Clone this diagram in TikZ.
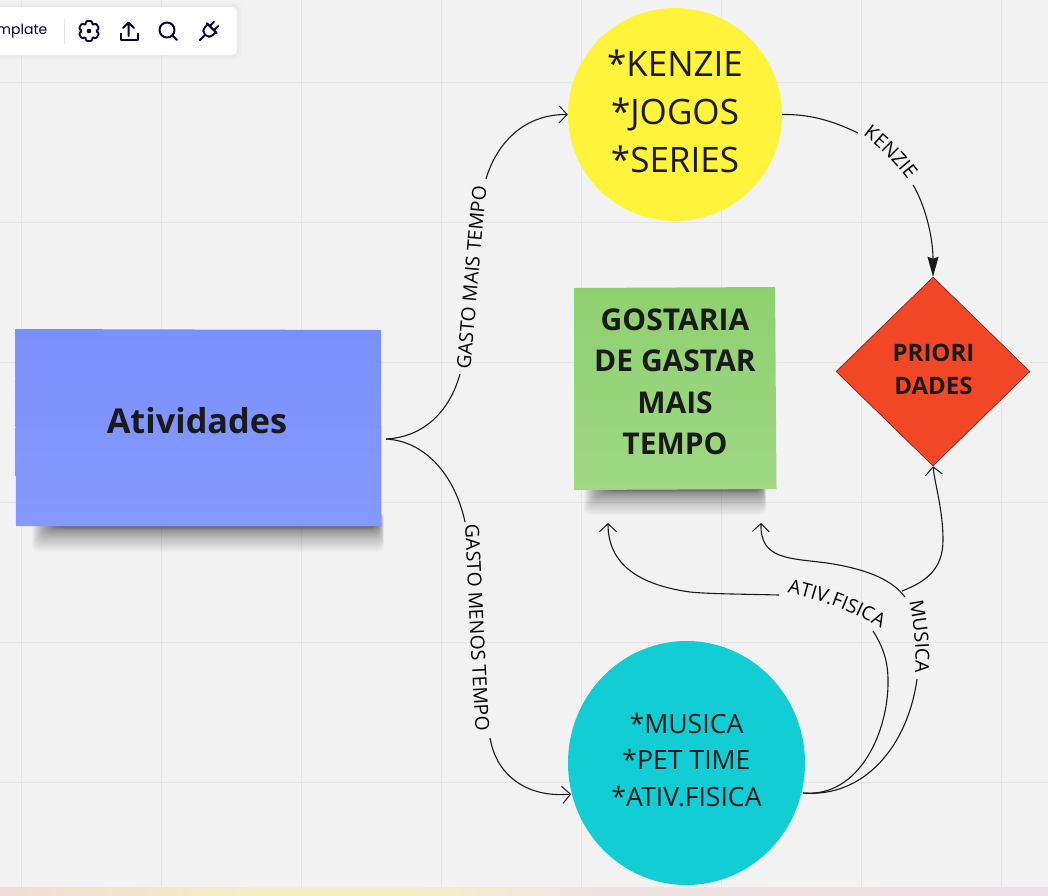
\documentclass[tikz,border=0pt]{standalone}
\usepackage{fontspec}
\setmainfont{Open Sans}
\newfontfamily\uifont{Poppins}
\usetikzlibrary{shapes.geometric,decorations.text,arrows.meta,calc}
\definecolor{bgc}{HTML}{F2F2F2}
\definecolor{gridc}{HTML}{E5E5E5}
\definecolor{ink}{HTML}{1A1A1A}
\definecolor{navy}{HTML}{050038}
\definecolor{stripA}{HTML}{F0DCD6}
\definecolor{stripB}{HTML}{F5EFC5}
\definecolor{stripC}{HTML}{F2E3E3}
\definecolor{stripD}{HTML}{EFDFE6}
\definecolor{blueA}{RGB}{122,144,251}
\definecolor{blueB}{RGB}{133,153,255}
\definecolor{greenA}{RGB}{142,208,112}
\definecolor{greenB}{RGB}{160,216,132}
\definecolor{yellowc}{RGB}{255,243,60}
\definecolor{tealc}{RGB}{18,205,212}
\definecolor{redc}{RGB}{242,71,38}
\newcommand{\lblfont}{\fontsize{19.3}{19.3}\selectfont}
\newcommand{\fs}[2]{\fontsize{#1}{#2}\selectfont}
\tikzset{
  x=1pt,y=-1pt,
  conn/.style={draw=ink,line width=1.1pt},
  openhead/.style={-{Straight Barb[length=8pt,width=17pt,line width=1pt]}},
  solidhead/.style={-{Stealth[length=20pt,width=11pt,inset=2pt]}},
  curvedlabel/.style={decorate,decoration={text along path,text align=center,text={|\lblfont|#1}}},
  shadowpiece/.style={fill=black,fill opacity=0.026,draw=none,rounded corners=6pt},
  icon/.style={draw=navy,line width=2pt,line cap=round,line join=round},
  circ/.style={ellipse,draw=none,inner sep=0pt},
  txt/.style={inner sep=0pt,text=ink,align=center},
}
\begin{document}
\begin{tikzpicture}
\useasboundingbox (0,0) rectangle (1048,895);
\fill[bgc] (0,0) rectangle (1048,896);
% grid
\foreach \gx in {21,161,301,441,581,721,861,1001}
  \draw[gridc,line width=1pt] (\gx,0) -- (\gx,887);
\foreach \gy in {82,222,362,502,642,782}
  \draw[gridc,line width=1pt] (0,\gy) -- (1048,\gy);
% bottom strip
\shade[left color=stripA,right color=stripB] (0,887) rectangle (270,897);
\fill[stripB] (269,887) rectangle (401,897);
\shade[left color=stripB,right color=stripC] (400,887) rectangle (600,897);
\shade[left color=stripC,right color=stripD] (600,887) rectangle (1048,897);
% shadows
\foreach \i in {0,...,23}
  \path[shadowpiece] ({32+\i*1.0},512) rectangle ({384-\i*0.3},{528+0.045*(23-\i)*(23-\i)});
\foreach \i in {0,...,23}
  \path[shadowpiece] ({584+\i*1.0},476) rectangle ({766-\i*0.2},{491+0.045*(23-\i)*(23-\i)});
% toolbar
\foreach \i in {0,...,5}
  \path[fill=black,fill opacity=0.008,rounded corners=6pt] (-10,{7-\i}) rectangle ({237+\i},{55+\i});
\fill[white,rounded corners=5pt] (-10,7) rectangle (237,55);
\node[anchor=east,inner sep=0pt,text=navy,font=\uifont\fs{14}{14}] (tpl) at (47.5,31.5) {mplate};
\draw[gridc,line width=1pt] (64.5,19) -- (64.5,44);
% gear
\begin{scope}[shift={(89,31)}]
  \draw[icon,line width=1.9pt,rounded corners=1.4pt] (72:10.5) -- (60:6.6) -- (48:10.5) -- (12:10.5) -- (0:6.6) -- (-12:10.5) -- (-48:10.5) -- (-60:6.6) -- (-72:10.5) -- (-108:10.5) -- (-120:6.6) -- (-132:10.5) -- (-168:10.5) -- (180:6.6) -- (168:10.5) -- (132:10.5) -- (120:6.6) -- (108:10.5) -- cycle;
  \fill[navy] (0,0) circle (2.3);
\end{scope}
% upload
\draw[icon] (128.5,36) -- (128.5,23) (123,28) -- (128.5,22.5) -- (134,28);
\draw[icon,line cap=butt] (120.5,33) -- (120.5,39.5) -- (137.5,39.5) -- (137.5,33);
% search
\draw[icon] (167,30) circle (7.5);
\draw[icon] (172.5,35.5) -- (177,40);
% plug
\begin{scope}[shift={(209,31)},rotate=-45]
  \draw[icon] (0,5.5) -- (0,13)
    (-7,-4) -- (7,-4) (-5.5,-4) -- (-5.5,0) .. controls (-5.5,3.5) and (-3,5.5) .. (0,5.5) .. controls (3,5.5) and (5.5,3.5) .. (5.5,0) -- (5.5,-4)
    (-3,-4) -- (-3,-10) (3,-4) -- (3,-10);
\end{scope}
% shapes
\shade[top color=blueA,bottom color=blueB] (15,329) -- (381,330) -- (381.5,526) -- (16,526) -- cycle;
\node[txt,font=\bfseries\fs{34.3}{34.3}] (blue) at (197,421) {Atividades};
\shade[top color=greenA,bottom color=greenB] (574,288) -- (775,287) -- (776.5,489) -- (574,490) -- cycle;
\node[txt,font=\bfseries\fs{30}{41.5}] (green) at (675,382) {GOSTARIA\\DE GASTAR\\MAIS\\TEMPO};
\node[circ,fill=yellowc,minimum width=214pt,minimum height=213pt] (yellow) at (675,114.5) {};
\node[txt,font=\fs{35}{48}] (yellowtext) at (675,111) {*KENZIE\\*JOGOS\\*SERIES};
\node[circ,fill=tealc,minimum width=237pt,minimum height=244pt] (teal) at (686.5,763) {};
\node[txt,font=\fs{26.6}{36.5}] (tealtext) at (686.5,760) {*MUSICA\\*PET TIME\\*ATIV.FISICA};
\node[diamond,draw=ink!70!red,line width=.5pt,fill=redc,minimum width=194pt,minimum height=189pt,inner sep=0pt] (prio) at (933,371.5) {};
\node[txt,font=\bfseries\fs{24}{33}] (priotext) at (933.5,369.5) {PRIORI\\DADES};
% connector coordinates
\coordinate (bout) at (386,439);
\coordinate (tout) at (803,793);
\coordinate (mA) at (460,374);
\coordinate (mB) at (486,179);
\coordinate (lA) at (465,522);
\coordinate (lB) at (490,738);
\coordinate (tin) at (571,794);
\coordinate (kA) at (858,133);
\coordinate (kB) at (913,185);
\coordinate (fA) at (873,631);
\coordinate (fB) at (779,595);
\coordinate (fT) at (608,523);
\coordinate (uA) at (917,679);
\coordinate (uB) at (905,597);
\coordinate (uC) at (902,591);
\coordinate (uT) at (761,523);
% connectors
\draw[conn] (bout) .. controls (425,437) and (450,410) .. (mA);
\draw[conn,openhead] (mB) .. controls (497,142) and (525,114) .. (yellow.west);
\draw[conn] (bout) .. controls (425,441) and (455,475) .. (lA);
\draw[conn,openhead] (lB) .. controls (497,778) and (530,798) .. (tin);
\draw[conn] (yellow.east) .. controls (812,114) and (835,122) .. (kA);
\draw[conn,solidhead] (kB) .. controls (924,203) and (933,235) .. (prio.north);
\draw[conn] (tout) .. controls (860,798) and (889,730) .. (888,680) .. controls (888,660) and (882,645) .. (fA);
\draw[conn,openhead] (fB) .. controls (740,594) and (710,594) .. (690,592) .. controls (640,585) and (608,565) .. (fT);
\draw[conn] (tout) .. controls (865,798) and (908,745) .. (uA);
\draw[conn,openhead] (uB) .. controls (890,577) and (860,568) .. (827,563) .. controls (790,558) and (760,560) .. (uT);
\draw[conn,openhead] (uC) .. controls (925,582) and (943,570) .. (943,540) .. controls (943,510) and (935,485) .. (prio.south);
% curved labels
\path[curvedlabel={GASTO MAIS TEMPO}] (470,372) .. controls (476,310) and (480,250) .. (487,184);
\path[curvedlabel={GASTO MENOS TEMPO}] (465,520) .. controls (468,590) and (472,670) .. (476,736);
\path[curvedlabel={KENZIE}] (860,133) .. controls (878,145) and (895,163) .. (910,183);
\path[curvedlabel={ATIV.FISICA}] (784,592) .. controls (815,598) and (850,610) .. (884,630);
\path[curvedlabel={MUSICA}] (909,600) .. controls (914,625) and (917,650) .. (915,675);
\end{tikzpicture}
\end{document}
